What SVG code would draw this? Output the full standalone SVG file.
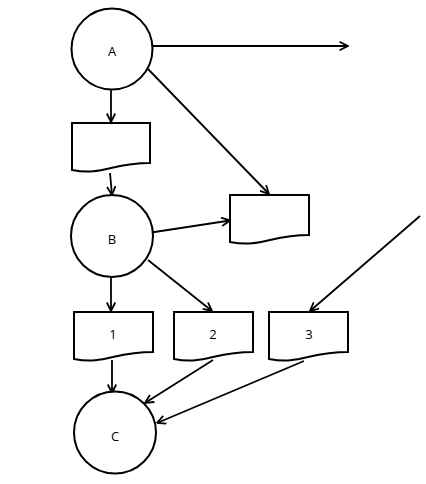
<svg xmlns="http://www.w3.org/2000/svg" width="426" height="484" viewBox="0 0 426 484">
<defs>
<marker id="arr" viewBox="0 0 10 10" refX="9.5" refY="5" markerWidth="10" markerHeight="10" markerUnits="userSpaceOnUse" orient="auto">
<path d="M1,0.8 L9.5,5 L1,9.2" fill="none" stroke="#000" stroke-width="1.8"/>
</marker>
</defs>
<style>
.s{fill:#fff;stroke:#000;stroke-width:2}
.c line{stroke:#000;stroke-width:1.8;marker-end:url(#arr)}
text{font-family:"Open Sans","DejaVu Sans",sans-serif;font-size:13px;fill:#000;text-anchor:middle;dominant-baseline:central}
</style>
<rect width="426" height="484" fill="#fff"/>
<g class="c">
<line x1="152" y1="46" x2="348" y2="46"/>
<line x1="111" y1="90" x2="111" y2="122"/>
<line x1="148" y1="69" x2="269" y2="194"/>
<line x1="110" y1="173" x2="112" y2="195"/>
<line x1="148" y1="233" x2="230" y2="220.5"/>
<line x1="111" y1="277" x2="111" y2="311"/>
<line x1="148" y1="260" x2="212" y2="311"/>
<line x1="420" y1="216" x2="310" y2="311"/>
<line x1="112" y1="360" x2="112" y2="393"/>
<line x1="213" y1="360" x2="145" y2="403"/>
<line x1="304" y1="361" x2="157" y2="423"/>
</g>
<g id="A"><circle class="s" cx="112" cy="49" r="40.5"/><text x="112" y="51">A</text></g>
<g id="B"><circle class="s" cx="112" cy="236" r="41"/><text x="112" y="239">B</text></g>
<g id="C"><circle class="s" cx="115" cy="432.5" r="41"/><text x="115" y="436">C</text></g>
<g id="doc0"><path class="s" d="M72,123 L150,123 L150,163 C111,163 103,176 72,170 Z"/></g>
<g id="docR"><path class="s" d="M230,195 L309,195 L309,235 C270,235 262,248 230,242 Z"/></g>
<g id="doc1"><path class="s" d="M74,312 L153,312 L153,352 C113,352 105,365 74,359 Z"/><text x="113" y="334">1</text></g>
<g id="doc2"><path class="s" d="M174,312 L253,312 L253,352 C213,352 205,365 174,359 Z"/><text x="213" y="334">2</text></g>
<g id="doc3"><path class="s" d="M269,312 L348,312 L348,352 C308,352 300,365 269,359 Z"/><text x="309" y="334">3</text></g>
</svg>
